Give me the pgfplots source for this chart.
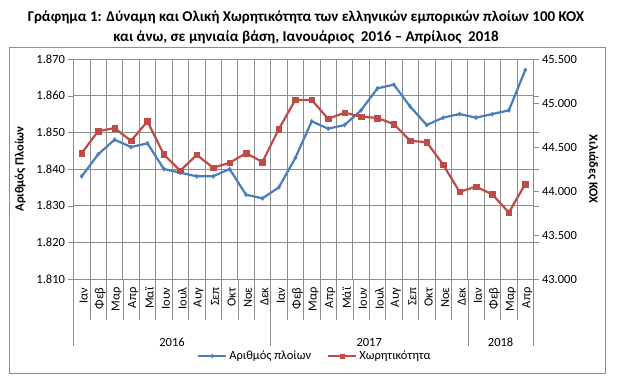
\documentclass[border=0pt]{standalone}
\usepackage{fontspec}
\setmainfont{Carlito}
\usepackage{pgfplots}
\pgfplotsset{compat=1.18}
\usepackage{pgfplotstable}
\definecolor{cblue}{HTML}{4A7EBB}
\definecolor{cred}{HTML}{BE4B48}
\definecolor{cgrid}{HTML}{8C8C8C}

\pgfplotstableread{
x ships tonnage
0 1838 44430
1 1844 44680
2 1848 44715
3 1846 44570
4 1847 44790
5 1840 44415
6 1839 44230
7 1838 44410
8 1838 44265
9 1840 44320
10 1833 44430
11 1832 44330
12 1835 44705
13 1843 45035
14 1853 45035
15 1851 44820
16 1852 44890
17 1856 44845
18 1862 44830
19 1863 44760
20 1857 44570
21 1852 44555
22 1854 44300
23 1855 43990
24 1854 44050
25 1855 43960
26 1856 43755
27 1867 44080
}\datatable

\newcommand{\tf}{\fontsize{12.5}{14}\selectfont}

\begin{document}
\begin{tikzpicture}
\useasboundingbox (-73.5pt,-109pt) rectangle (543.5pt,279pt);
\draw[cgrid] (-64.5pt,-94pt) rectangle (531.5pt,232pt);
\node[font=\fontsize{15}{17}\selectfont\bfseries] at (232.5pt,262pt) {Γράφημα 1: Δύναμη και Ολική Χωρητικότητα των ελληνικών εμπορικών πλοίων 100 ΚΟΧ};
\node[font=\fontsize{15}{17}\selectfont\bfseries] at (232.5pt,242pt) {και άνω, σε μηνιαία βάση, Ιανουάριος~ 2016 – Απρίλιος~ 2018};

\pgfplotsset{
  base/.style={
    scale only axis, width=460pt, height=220pt,
    xmin=-0.5, xmax=27.5,
    axis line style={cgrid},
    tick align=outside, major tick length=5pt,
    y tick style={cgrid},
    scaled y ticks=false,
    /pgf/number format/.cd, fixed, precision=0, 1000 sep={.}, assume math mode=true, /pgfplots/.cd,
    yticklabel style={font=\tf},
    clip=false,
  },
  bluestyle/.style={cblue, line width=2.2pt, mark=diamond*, mark size=2pt, mark options={solid, line width=0.6pt}},
  redstyle/.style={cred, line width=2.2pt, mark=square*, mark size=2.8pt, mark options={solid, line width=0.5pt}},
}

\begin{axis}[base,
  ymin=1810, ymax=1870,
  ytick={1810,1820,...,1870},
  xtick={0,...,27},
  xticklabels={Ιαν,Φεβ,Μαρ,Απρ,Μαϊ,Ιουν,Ιουλ,Αυγ,Σεπ,Οκτ,Νοε,Δεκ,Ιαν,Φεβ,Μαρ,Απρ,Μάϊ,Ιουν,Ιουλ,Αυγ,Σεπ,Οκτ,Νοε,Δεκ,Ιαν,Φεβ,Μαρ,Απρ},
  xticklabel style={rotate=90, anchor=east, font=\tf, yshift=-2pt},
  x tick style={draw=none},
  minor x tick style={draw=none},
  minor xtick={-0.5,0.5,...,27.5},
  xminorgrids=true, ymajorgrids=true,
  grid style={cgrid, line width=0.6pt},
  minor grid style={cgrid, line width=0.6pt},
  ylabel={Αριθμός Πλοίων},
  ylabel style={font=\bfseries\tf, at={(axis description cs:-0.116,0.5)}, anchor=center},
]
\addplot[bluestyle] table[x=x,y=ships]{\datatable};
\pgfplotsinvokeforeach{-0.5,0.5,...,27.5}{\draw[cgrid] (axis cs:#1,1810) -- ++(0pt,-41pt);}
\pgfplotsinvokeforeach{-0.5,11.5,23.5,27.5}{\draw[cgrid] (axis cs:#1,1810) -- ++(0pt,-67pt);}
\node[font=\tf] at (axis cs:5.5,1810) [yshift=-63pt] {2016};
\node[font=\tf] at (axis cs:17.5,1810) [yshift=-63pt] {2017};
\node[font=\tf] at (axis cs:25.5,1810) [yshift=-63pt] {2018};
\end{axis}

\begin{axis}[base,
  ymin=43000, ymax=45500,
  ytick={43000,43500,...,45500},
  axis y line*=right, axis x line=none,
  ylabel={Χιλιάδες ΚΟΧ},
  ylabel style={font=\bfseries\tf, at={(axis description cs:1.129,0.5)}, rotate=180, anchor=center},
  legend style={at={(0.525,-0.35)}, anchor=center, draw=none, fill=none, font=\tf, legend columns=2,
    /tikz/every even column/.append style={column sep=14pt}},
  legend image code/.code={\draw[mark repeat=2,mark phase=2,#1,mark size=1.8pt] plot coordinates {(0pt,0pt) (14pt,0pt) (28pt,0pt)};},
]
\addlegendimage{bluestyle}
\addlegendentry{Αριθμός πλοίων}
\addplot[redstyle] table[x=x,y=tonnage]{\datatable};
\addlegendentry{Χωρητικότητα}
\end{axis}
\end{tikzpicture}
\end{document}
